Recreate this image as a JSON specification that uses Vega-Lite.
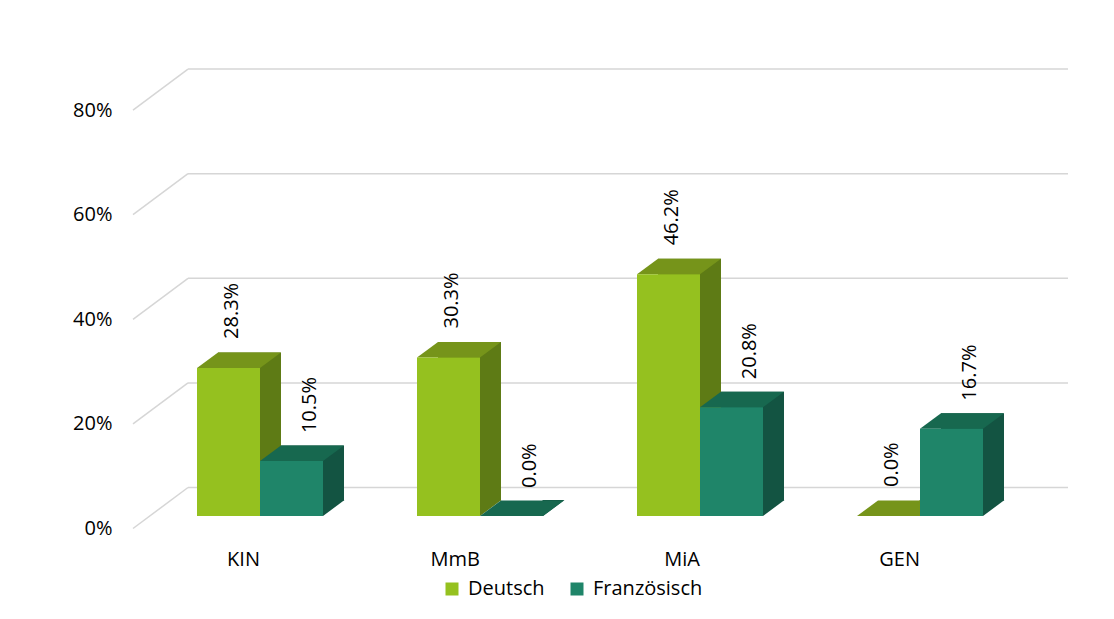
{
  "$schema": "https://vega.github.io/schema/vega-lite/v6.json",
  "width": 880,
  "height": 418.4,
  "autosize": {"type": "none"},
  "padding": {"left": 150, "top": 97.6, "right": 84, "bottom": 103},
  "background": "white",
  "config": {"view": {"stroke": null}, "font": "Open Sans"},
  "resolve": {"scale": {"xOffset": "independent"}},
  "datasets": {
    "bars": [
      {"Kategorie": "KIN", "Sprache": "Deutsch", "Anteil": 0.283},
      {"Kategorie": "KIN", "Sprache": "Französisch", "Anteil": 0.105},
      {"Kategorie": "MmB", "Sprache": "Deutsch", "Anteil": 0.303},
      {"Kategorie": "MmB", "Sprache": "Französisch", "Anteil": 0.0},
      {"Kategorie": "MiA", "Sprache": "Deutsch", "Anteil": 0.462},
      {"Kategorie": "MiA", "Sprache": "Französisch", "Anteil": 0.208},
      {"Kategorie": "GEN", "Sprache": "Deutsch", "Anteil": 0.0},
      {"Kategorie": "GEN", "Sprache": "Französisch", "Anteil": 0.167}
    ],
    "ticks": [{"t": 0}, {"t": 0.2}, {"t": 0.4}, {"t": 0.6}, {"t": 0.8}]
  },
  "layer": [
    {
      "data": {"name": "ticks"},
      "mark": {"type": "rule", "color": "#d6d6d6", "strokeWidth": 1.5, "xOffset": 38, "x2Offset": 38, "yOffset": -28.5, "y2Offset": -28.5},
      "encoding": {
        "x": {"datum": "KIN", "type": "nominal", "bandPosition": 0, "title": null},
        "x2": {"datum": "GEN", "bandPosition": 1},
        "y": {"field": "t", "type": "quantitative", "title": null, "scale": {"domain": [0, 0.8], "nice": false}},
        "y2": {"field": "t"}
      }
    },
    {
      "data": {"name": "ticks"},
      "mark": {"type": "rule", "color": "#d6d6d6", "strokeWidth": 1.5, "xOffset": -17, "x2Offset": 38, "yOffset": 12.5, "y2Offset": -28.5},
      "encoding": {
        "x": {"datum": "KIN", "type": "nominal", "bandPosition": 0, "title": null},
        "x2": {"datum": "KIN", "bandPosition": 0},
        "y": {"field": "t", "type": "quantitative", "title": null},
        "y2": {"field": "t"}
      }
    },
    {
      "data": {"name": "bars"},
      "mark": {"type": "bar", "yOffset": -15.5},
      "encoding": {
        "x": {"field": "Kategorie", "type": "nominal", "sort": ["KIN", "MmB", "MiA", "GEN"], "title": null},
        "xOffset": {"field": "Sprache", "type": "nominal", "scale": {"type": "band", "domain": ["Deutsch", "Französisch"], "paddingInner": 0, "paddingOuter": 0.746, "align": 0.7234}},
        "y": {"field": "Anteil", "type": "quantitative", "title": null},
        "fill": {"condition": {"test": "datum['Sprache'] === 'Deutsch'", "value": "#5E7B15"}, "value": "#135442"}
      }
    },
    {
      "data": {"name": "bars"},
      "mark": {"type": "point", "shape": "M31,-16L53,-16L31.5,0Z", "size": 4, "filled": true, "opacity": 1, "strokeWidth": 0},
      "encoding": {
        "x": {"field": "Kategorie", "type": "nominal", "sort": ["KIN", "MmB", "MiA", "GEN"], "title": null},
        "xOffset": {"field": "Sprache", "type": "nominal", "scale": {"type": "band", "domain": ["Deutsch", "Französisch"], "paddingInner": 0, "paddingOuter": 0.746}},
        "y": {"datum": 0, "type": "quantitative", "title": null},
        "fill": {"condition": {"test": "datum['Sprache'] === 'Deutsch'", "value": "#5E7B15"}, "value": "#135442"}
      }
    },
    {
      "data": {"name": "bars"},
      "mark": {"type": "point", "shape": "M-31.5,0L31.5,0L52.5,-15.5L-10.5,-15.5Z", "size": 4, "filled": true, "opacity": 1, "strokeWidth": 0},
      "encoding": {
        "x": {"field": "Kategorie", "type": "nominal", "sort": ["KIN", "MmB", "MiA", "GEN"], "title": null},
        "xOffset": {"field": "Sprache", "type": "nominal", "scale": {"type": "band", "domain": ["Deutsch", "Französisch"], "paddingInner": 0, "paddingOuter": 0.746}},
        "y": {"field": "Anteil", "type": "quantitative", "title": null},
        "fill": {"condition": {"test": "datum['Sprache'] === 'Deutsch'", "value": "#76941A"}, "value": "#17684F"}
      }
    },
    {
      "data": {"name": "bars"},
      "mark": {"type": "bar"},
      "encoding": {
        "x": {
          "field": "Kategorie", "type": "nominal", "sort": ["KIN", "MmB", "MiA", "GEN"], "title": null,
          "scale": {"paddingInner": 0, "paddingOuter": 0},
          "axis": {"ticks": false, "domain": false, "labelAngle": 0, "labelPadding": 43, "labelBaseline": "middle", "labelOffset": 0, "labelFontSize": 20, "labelFont": "Open Sans", "labelColor": "#000000"}
        },
        "xOffset": {"field": "Sprache", "type": "nominal", "scale": {"type": "band", "domain": ["Deutsch", "Französisch"], "paddingInner": 0, "paddingOuter": 0.746}},
        "y": {
          "field": "Anteil", "type": "quantitative", "title": null,
          "axis": {"format": ".0%", "values": [0, 0.2, 0.4, 0.6, 0.8], "grid": false, "ticks": false, "domain": false, "labelPadding": 38, "labelOffset": 12.5, "labelFontSize": 20, "labelFont": "Open Sans", "labelColor": "#000000", "labelOverlap": false, "labelBound": false, "labelFlush": false}
        },
        "color": {
          "field": "Sprache", "type": "nominal",
          "scale": {"domain": ["Deutsch", "Französisch"], "range": ["#95C11F", "#1F8569"]},
          "legend": {"title": null, "orient": "none", "direction": "horizontal", "legendX": 292, "legendY": 481.4, "symbolType": "square", "symbolSize": 169, "symbolStrokeWidth": 0, "labelFontSize": 20, "labelFont": "Open Sans", "labelColor": "#000000", "labelOffset": 6, "columnPadding": 22, "padding": 0}
        }
      }
    },
    {
      "data": {"name": "bars"},
      "transform": [{"filter": "datum['Sprache'] === 'Deutsch'"}],
      "mark": {"type": "text", "angle": 270, "align": "left", "baseline": "middle", "dy": 4, "yOffset": -29, "fontSize": 20, "font": "Open Sans", "color": "#000000"},
      "encoding": {
        "x": {"field": "Kategorie", "type": "nominal", "sort": ["KIN", "MmB", "MiA", "GEN"], "title": null},
        "xOffset": {"field": "Sprache", "type": "nominal", "scale": {"type": "band", "domain": ["Deutsch", "Französisch"], "paddingInner": 0, "paddingOuter": 0.746}},
        "y": {"field": "Anteil", "type": "quantitative", "title": null},
        "text": {"field": "Anteil", "type": "quantitative", "format": ".1%"}
      }
    },
    {
      "data": {"name": "bars"},
      "transform": [{"filter": "datum['Sprache'] === 'Französisch'"}],
      "mark": {"type": "text", "angle": 270, "align": "left", "baseline": "middle", "dy": 18, "yOffset": -28, "fontSize": 20, "font": "Open Sans", "color": "#000000"},
      "encoding": {
        "x": {"field": "Kategorie", "type": "nominal", "sort": ["KIN", "MmB", "MiA", "GEN"], "title": null},
        "xOffset": {"field": "Sprache", "type": "nominal", "scale": {"type": "band", "domain": ["Deutsch", "Französisch"], "paddingInner": 0, "paddingOuter": 0.746}},
        "y": {"field": "Anteil", "type": "quantitative", "title": null},
        "text": {"field": "Anteil", "type": "quantitative", "format": ".1%"}
      }
    }
  ]
}
